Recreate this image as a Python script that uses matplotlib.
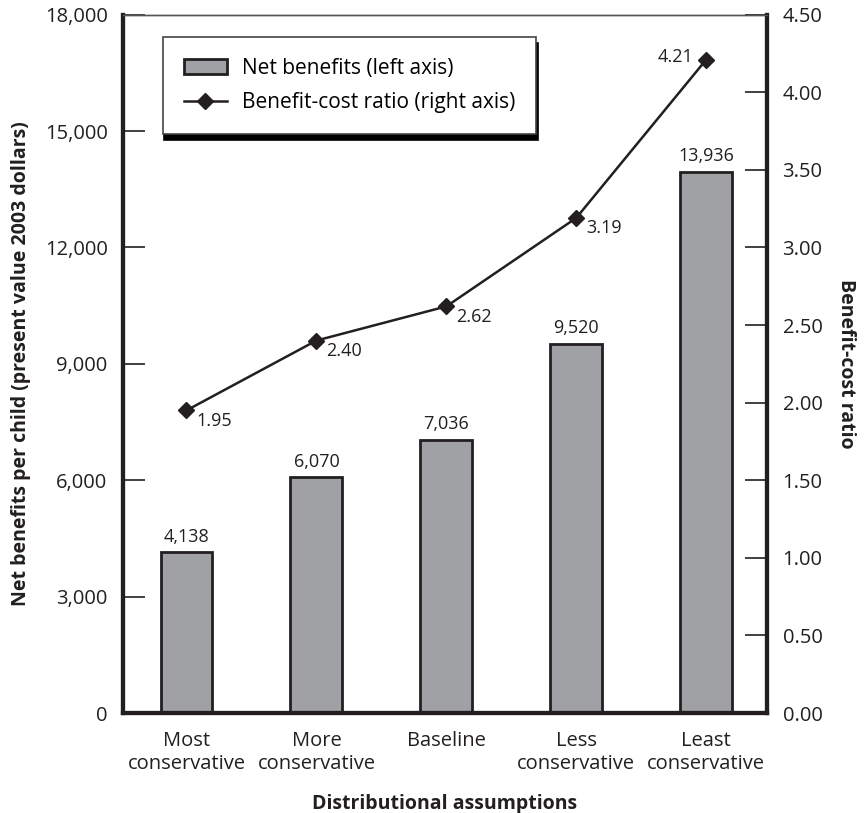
import numpy as np
import matplotlib
matplotlib.use('Agg')
from matplotlib import pyplot as plt
from matplotlib.ticker import FuncFormatter, MultipleLocator

plt.rcParams['font.family'] = ['Open Sans', 'DejaVu Sans']

# 数据
categories = ['Most\nconservative', 'More\nconservative', 'Baseline',
              'Less\nconservative', 'Least\nconservative']
net_benefits = [4138, 6070, 7036, 9520, 13936]
bc_ratio = [1.95, 2.40, 2.62, 3.19, 4.21]

ink = '#231f20'
bar_color = '#a0a1a4'

fig = plt.figure(figsize=(8.65, 8.13), dpi=100)
ax = fig.add_axes([0.142, 0.123, 0.745, 0.859])
ax2 = ax.twinx()

x = np.arange(len(categories))
bars = ax.bar(x, net_benefits, width=0.4, color=bar_color, edgecolor=ink,
              linewidth=2, label='Net benefits (left axis)', zorder=2)
for xi, v in zip(x, net_benefits):
    ax.annotate('{:,}'.format(v), (xi, v), xytext=(0, 5), textcoords='offset points',
                ha='center', va='bottom', fontsize=13, color=ink)

line, = ax2.plot(x, bc_ratio, color=ink, linewidth=1.8, marker='D', markersize=8.5,
                 label='Benefit-cost ratio (right axis)')
for i, (xi, r) in enumerate(zip(x, bc_ratio)):
    if i == len(x) - 1:
        # 最后一个点的标签放在左边
        ax2.annotate('{:.2f}'.format(r), (xi, r), xytext=(-9, 2), textcoords='offset points',
                     ha='right', va='center', fontsize=13, color=ink)
    else:
        ax2.annotate('{:.2f}'.format(r), (xi, r), xytext=(7, -1), textcoords='offset points',
                     ha='left', va='top', fontsize=13, color=ink)

ax.set_xlim(-0.49, 4.47)
ax.set_ylim(0, 18000)
ax2.set_ylim(0, 4.5)
ax.yaxis.set_major_locator(MultipleLocator(3000))
ax2.yaxis.set_major_locator(MultipleLocator(0.5))
ax.yaxis.set_major_formatter(FuncFormatter(lambda v, p: '{:,.0f}'.format(v)))
ax2.yaxis.set_major_formatter(FuncFormatter(lambda v, p: '{:.2f}'.format(v)))

ax.set_xticks(x)
ax.set_xticklabels(categories, fontsize=14.5, color=ink, linespacing=1.2)
ax.tick_params(axis='x', length=0, pad=13)
ax.tick_params(axis='y', direction='in', length=16, width=1.2, color=ink,
               labelsize=14.5, labelcolor=ink, pad=11)
ax2.tick_params(axis='y', direction='in', length=16, width=1.2, color=ink,
                labelsize=14.5, labelcolor=ink, pad=11)

for a in (ax, ax2):
    for s in ('left', 'right', 'bottom'):
        a.spines[s].set_linewidth(3)
        a.spines[s].set_color(ink)
    a.spines['top'].set_linewidth(1)
    a.spines['top'].set_color('#555555')

ax.set_ylabel('Net benefits per child (present value 2003 dollars)', fontsize=14,
              fontweight='bold', color=ink, labelpad=10)
ax2.set_ylabel('Benefit-cost ratio', fontsize=14, fontweight='bold', color=ink,
               rotation=270, labelpad=24)
ax.set_xlabel('Distributional assumptions', fontsize=14, fontweight='bold',
              color=ink, labelpad=14)

leg = ax2.legend([bars, line], [bars.get_label(), line.get_label()],
                 loc='upper left', bbox_to_anchor=(0.062, 0.968), fontsize=15,
                 frameon=True, fancybox=False, borderpad=1.0, labelspacing=0.65,
                 handlelength=2.1, handletextpad=0.7, borderaxespad=0,
                 shadow={'color': 'black', 'alpha': 1, 'ox': 1, 'oy': -4})
leg.get_frame().set_edgecolor('#444444')
leg.get_frame().set_linewidth(1.2)
leg.get_frame().set_alpha(1)

fig.savefig('out.png', dpi=100)
